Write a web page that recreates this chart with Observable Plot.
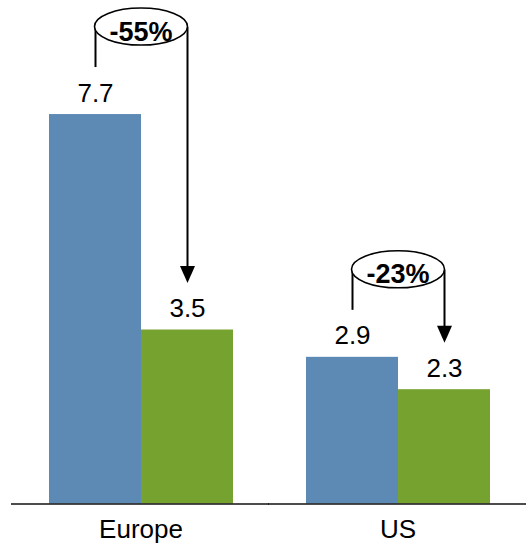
<!DOCTYPE html>
<html>
<head>
<meta charset="utf-8">
<script src="https://cdn.jsdelivr.net/npm/d3@7"></script>
<script src="https://cdn.jsdelivr.net/npm/@observablehq/plot@0.6"></script>
<style>
  html, body { margin: 0; padding: 0; background: #fff; }
  #chart svg { display: block; }
</style>
</head>
<body>
<div id="chart"></div>
<script>
// ---- data ----
const regions = ["Europe", "US"];
const periods = ["before", "after"];
const beforeValues = [7.7, 2.9];
const afterValues = [3.44, 2.26];
const beforeLabels = ["7.7", "2.9"];
const afterLabels = ["3.5", "2.3"];
const changeLabels = ["-55%", "-23%"];

// ---- tables built from the arrays ----
const rows = [];
regions.forEach((r, i) => {
  rows.push({region: r, period: periods[0], value: beforeValues[i], label: beforeLabels[i]});
  rows.push({region: r, period: periods[1], value: afterValues[i], label: afterLabels[i]});
});
const ann = regions.map((r, i) => ({
  region: r, before: beforeValues[i], after: afterValues[i], pct: changeLabels[i]
}));

// custom symbols
const ellipseSym = {
  draw(ctx) {
    const rx = 46.5, ry = 18.5, k = 0.5523;
    ctx.moveTo(rx, 0);
    ctx.bezierCurveTo(rx, ry * k, rx * k, ry, 0, ry);
    ctx.bezierCurveTo(-rx * k, ry, -rx, ry * k, -rx, 0);
    ctx.bezierCurveTo(-rx, -ry * k, -rx * k, -ry, 0, -ry);
    ctx.bezierCurveTo(rx * k, -ry, rx, -ry * k, rx, 0);
    ctx.closePath();
  }
};
const arrowSym = {
  draw(ctx) {
    ctx.moveTo(-7.5, -8.5);
    ctx.lineTo(7.5, -8.5);
    ctx.lineTo(0, 8.5);
    ctx.closePath();
  }
};

const FONT = "'Liberation Sans', Arial, Helvetica, sans-serif";

const chart = Plot.plot({
  width: 526,
  height: 543,
  marginLeft: 11,
  marginRight: 0,
  marginTop: 0,
  marginBottom: 39.5,
  style: {fontFamily: FONT, fontSize: "26px", color: "#000", background: "#fff"},
  fx: {domain: regions, padding: 0, label: null, axis: "bottom", tickSize: 0, tickPadding: 16},
  x: {domain: periods, paddingInner: 0, paddingOuter: 0.393, axis: null},
  y: {domain: [0, 9.955], axis: null},
  color: {domain: periods, range: ["#5d8ab5", "#76a22f"]},
  marks: [
    Plot.barY(rows, {fx: "region", x: "period", y: "value", fill: "period"}),
    Plot.ruleY([0], {stroke: "#111", strokeWidth: 1.5, insetLeft: -1}),
    Plot.text(rows, {fx: "region", x: "period", y: "value", text: "label",
      dy: -13, lineAnchor: "bottom", fontSize: 26, fill: "#000"}),
    // left bracket line (from ellipse down toward "before" label)
    Plot.ruleX(ann, {fx: "region", x: () => periods[0], y1: "before", y2: "before",
      insetTop: -87, insetBottom: 47, stroke: "#000", strokeWidth: 2}),
    // right arrow shaft
    Plot.ruleX(ann, {fx: "region", x: () => periods[1], y1: "before", y2: "after",
      insetTop: -87, insetBottom: 60, stroke: "#000", strokeWidth: 2}),
    // arrow head
    Plot.dot(ann, {fx: "region", x: () => periods[1], y: "after", dy: -55.5,
      symbol: arrowSym, fill: "#000", stroke: "none"}),
    // ellipse bubble
    Plot.dot(ann, {fx: "region", y: "before", dy: -88, symbol: ellipseSym,
      fill: "#fff", stroke: "#000", strokeWidth: 1.6}),
    Plot.text(ann, {fx: "region", y: "before", dy: -82.5, text: "pct",
      fontSize: 27, fontWeight: "bold", fill: "#000", lineAnchor: "middle"})
  ]
});
document.getElementById("chart").appendChild(chart);
</script>
</body>
</html>
